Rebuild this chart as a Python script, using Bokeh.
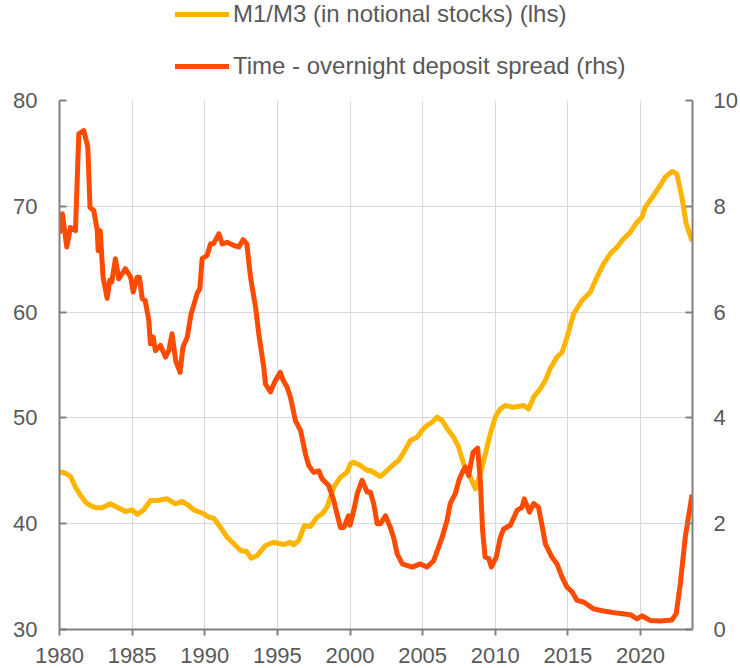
from bokeh.plotting import figure
from bokeh.layouts import column
from bokeh.models import Range1d, LinearAxis, FixedTicker, Legend, LegendItem
from bokeh.embed import file_html
from bokeh.resources import INLINE

# M1/M3 ratio (lhs, %)
m1m3_years = [1980.0, 1980.41, 1980.76, 1981.1, 1981.45, 1981.9, 1982.48, 1982.94, 1983.5, 1983.97,
              1984.54, 1985.0, 1985.35, 1985.8, 1986.26, 1986.72, 1987.41, 1987.98, 1988.44, 1988.9,
              1989.24, 1989.93, 1990.28, 1990.62, 1991.08, 1991.54, 1992.0, 1992.46, 1992.87, 1993.2,
              1993.6, 1994.18, 1994.75, 1995.44, 1995.9, 1996.12, 1996.47, 1996.86, 1997.27, 1997.73,
              1998.08, 1998.42, 1998.88, 1999.34, 1999.8, 2000.03, 2000.26, 2000.72, 2001.18, 2001.4,
              2002.1, 2002.55, 2003.0, 2003.35, 2003.7, 2004.16, 2004.62, 2004.96, 2005.3, 2005.65,
              2005.99, 2006.34, 2006.79, 2007.13, 2007.48, 2007.82, 2008.28, 2008.63, 2008.97, 2009.32,
              2009.66, 2010.0, 2010.35, 2010.7, 2011.27, 2011.96, 2012.3, 2012.64, 2013.1, 2013.45,
              2013.79, 2014.25, 2014.6, 2014.94, 2015.4, 2015.97, 2016.54, 2017.0, 2017.46, 2017.92,
              2018.38, 2018.84, 2019.3, 2019.76, 2020.1, 2020.33, 2020.9, 2021.36, 2021.7, 2022.17,
              2022.5, 2022.85, 2023.15, 2023.55]
m1m3_values = [44.93, 44.77, 44.46, 43.45, 42.67, 41.88, 41.5, 41.5, 41.88, 41.56,
               41.15, 41.31, 40.87, 41.31, 42.19, 42.19, 42.35, 41.88, 42.1, 41.72,
               41.31, 40.94, 40.61, 40.52, 39.67, 38.72, 38.1, 37.47, 37.37, 36.74,
               36.99, 37.94, 38.25, 38.03, 38.25, 38.0, 38.41, 39.83, 39.74, 40.61,
               40.94, 41.56, 43.45, 44.4, 44.87, 45.66, 45.81, 45.5, 45.03, 45.03,
               44.46, 45.03, 45.6, 45.97, 46.76, 47.86, 48.18, 48.8, 49.28, 49.59,
               50.07, 49.75, 48.8, 48.18, 47.23, 45.66, 44.4, 43.3, 44.72, 46.6,
               48.5, 50.07, 50.86, 51.17, 51.0, 51.17, 50.86, 51.96, 52.75, 53.53,
               54.7, 55.74, 56.2, 57.63, 59.84, 61.1, 61.88, 63.3, 64.56, 65.51,
               66.13, 66.93, 67.55, 68.5, 68.97, 69.92, 71.02, 71.97, 72.75, 73.29,
               73.07, 70.86, 68.35, 66.7]

# Time - overnight deposit spread (rhs, pp)
spread_years = [1980.0, 1980.2, 1980.5, 1980.75, 1981.1, 1981.33, 1981.67, 1981.95, 1982.1, 1982.36,
                1982.6, 1982.66, 1982.8, 1983.0, 1983.28, 1983.46, 1983.6, 1983.85, 1984.08, 1984.54,
                1984.9, 1985.07, 1985.35, 1985.5, 1985.7, 1985.9, 1986.15, 1986.26, 1986.45, 1986.6,
                1986.95, 1987.3, 1987.52, 1987.75, 1988.0, 1988.3, 1988.5, 1988.8, 1989.06, 1989.2,
                1989.47, 1989.66, 1989.82, 1990.16, 1990.4, 1990.6, 1990.97, 1991.2, 1991.54, 1992.0,
                1992.35, 1992.64, 1992.9, 1993.15, 1993.5, 1993.72, 1994.06, 1994.18, 1994.52, 1994.87,
                1995.2, 1995.4, 1995.67, 1995.9, 1996.24, 1996.6, 1996.93, 1997.16, 1997.5, 1997.85,
                1998.07, 1998.53, 1998.88, 1999.1, 1999.34, 1999.57, 1999.9, 2000.0, 2000.26, 2000.5,
                2000.83, 2001.18, 2001.4, 2001.63, 2001.87, 2002.1, 2002.44, 2002.78, 2003.0, 2003.25,
                2003.6, 2004.27, 2004.85, 2005.3, 2005.76, 2006.1, 2006.34, 2006.68, 2006.9, 2007.25,
                2007.5, 2007.78, 2007.94, 2008.17, 2008.47, 2008.79, 2008.97, 2009.13, 2009.3, 2009.55,
                2009.73, 2010.07, 2010.35, 2010.58, 2011.04, 2011.5, 2011.84, 2012.0, 2012.36, 2012.64,
                2012.98, 2013.2, 2013.45, 2013.9, 2014.25, 2014.6, 2014.94, 2015.3, 2015.63, 2016.08,
                2016.77, 2017.46, 2018.38, 2019.3, 2019.76, 2020.1, 2020.67, 2021.36, 2022.17, 2022.46,
                2022.74, 2023.08, 2023.55]
spread_values = [7.49, 7.86, 7.23, 7.6, 7.54, 9.37, 9.43, 9.12, 7.98, 7.92,
                 7.54, 7.16, 7.54, 6.66, 6.26, 6.6, 6.57, 7.01, 6.63, 6.82,
                 6.66, 6.38, 6.66, 6.66, 6.25, 6.22, 5.84, 5.4, 5.53, 5.27,
                 5.37, 5.15, 5.27, 5.59, 5.08, 4.86, 5.34, 5.53, 5.97, 6.09,
                 6.35, 6.44, 7.01, 7.07, 7.29, 7.29, 7.48, 7.29, 7.32, 7.26,
                 7.23, 7.37, 7.29, 6.66, 6.09, 5.59, 4.96, 4.64, 4.49, 4.71,
                 4.86, 4.71, 4.58, 4.39, 3.95, 3.76, 3.32, 3.1, 2.97, 3.0,
                 2.85, 2.72, 2.44, 2.19, 1.93, 1.93, 2.15, 1.97, 2.25, 2.57,
                 2.82, 2.6, 2.6, 2.38, 2.0, 2.0, 2.15, 1.93, 1.74, 1.43,
                 1.24, 1.18, 1.24, 1.18, 1.3, 1.56, 1.74, 2.06, 2.38, 2.57,
                 2.82, 3.0, 3.07, 2.91, 3.35, 3.43, 2.82, 1.87, 1.37, 1.34,
                 1.18, 1.37, 1.74, 1.9, 1.97, 2.25, 2.31, 2.47, 2.22, 2.38,
                 2.31, 2.0, 1.62, 1.37, 1.24, 0.99, 0.8, 0.71, 0.55, 0.52,
                 0.39, 0.35, 0.31, 0.28, 0.2, 0.26, 0.17, 0.16, 0.18, 0.3,
                 0.86, 1.74, 2.55]

x_ticks = [1980, 1985, 1990, 1995, 2000, 2005, 2010, 2015, 2020]
lhs_ticks = [30, 40, 50, 60, 70, 80]
rhs_ticks = [0, 2, 4, 6, 8, 10]
series_labels = ["M1/M3 (in notional stocks) (lhs)", "Time - overnight deposit spread (rhs)"]

YELLOW = "#FFB400"
RED = "#FF4B00"
TXT = "#595959"
AXC = "#808080"
GRID = "#D9D9D9"
FONT = "Liberation Sans"
LW = 5

# ---- main chart ----
p = figure(width=740, height=580, output_backend="svg", toolbar_location=None,
           x_range=Range1d(1980, 2023.58), y_range=Range1d(30, 80),
           min_border_left=59, min_border_right=48, min_border_top=12, min_border_bottom=39)
p.outline_line_color = None
p.background_fill_color = "white"
p.border_fill_color = "white"
p.extra_y_ranges = {"rhs": Range1d(0, 10)}

p.xaxis.ticker = FixedTicker(ticks=x_ticks)
p.yaxis.ticker = FixedTicker(ticks=lhs_ticks)
rax = LinearAxis(y_range_name="rhs", ticker=FixedTicker(ticks=rhs_ticks))
p.add_layout(rax, "right")

for ax in [p.xaxis[0], p.yaxis[0], rax]:
    ax.axis_line_color = AXC
    ax.axis_line_width = 2
    ax.major_tick_line_color = AXC
    ax.major_tick_line_width = 2
    ax.minor_tick_line_color = None
    ax.major_label_text_font = FONT
    ax.major_label_text_font_size = "22px"
    ax.major_label_text_color = TXT

p.xaxis.major_tick_in = 0
p.xaxis.major_tick_out = 6
p.xaxis.major_label_standoff = 12
p.yaxis.major_tick_in = 7
p.yaxis.major_tick_out = 0
p.yaxis.major_label_standoff = 22
rax.major_tick_in = 7
rax.major_tick_out = 0
rax.major_label_standoff = 21

p.xgrid.ticker = FixedTicker(ticks=x_ticks)
p.xgrid.grid_line_color = GRID
p.ygrid.grid_line_color = GRID
p.xgrid.grid_line_width = 1
p.ygrid.grid_line_width = 1

r1 = p.line(m1m3_years, m1m3_values, line_color=YELLOW, line_width=LW, line_join="round")
r2 = p.line(spread_years, spread_values, line_color=RED, line_width=LW, line_join="round",
            y_range_name="rhs")

# ---- legend strip above the chart (its series lie outside its view) ----
lg = figure(width=740, height=88, output_backend="svg", toolbar_location=None,
            x_range=Range1d(0, 1), y_range=Range1d(0, 1), min_border=0)
lg.outline_line_color = None
lg.axis.visible = False
lg.grid.visible = False
k1 = lg.line(m1m3_years, m1m3_values, line_color=YELLOW, line_width=LW, line_cap="round")
k2 = lg.line(spread_years, spread_values, line_color=RED, line_width=LW, line_cap="round")

legend = Legend(items=[LegendItem(label=series_labels[0], renderers=[k1]),
                       LegendItem(label=series_labels[1], renderers=[k2])],
                location=(116, 8), orientation="vertical")
legend.border_line_color = None
legend.background_fill_alpha = 0
legend.padding = 0
legend.margin = 0
legend.spacing = 24
legend.glyph_width = 54
legend.glyph_height = 24
legend.label_height = 24
legend.label_standoff = 4
legend.label_text_font = FONT
legend.label_text_font_size = "24px"
legend.label_text_color = TXT
lg.add_layout(legend, "center")

layout = column(lg, p, spacing=0)
open("out.html", "w").write(file_html(layout, INLINE))
